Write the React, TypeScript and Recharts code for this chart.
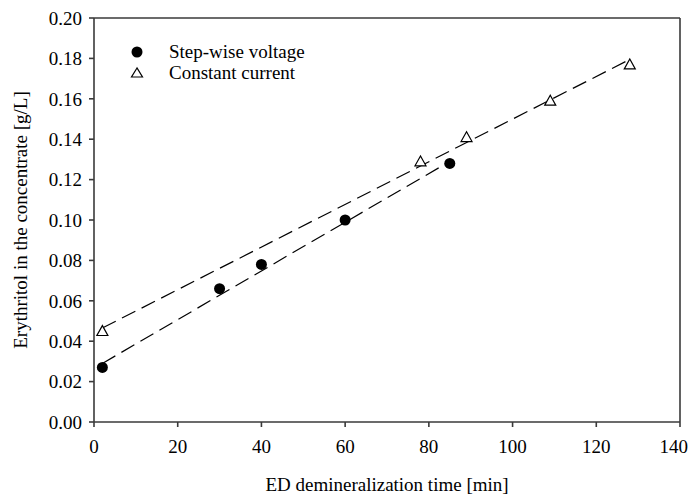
import React from "react";
import { ComposedChart, Scatter, Line, XAxis, YAxis } from "recharts";

// measured points
const stepTime = [2, 30, 40, 60, 85];
const stepConc = [0.027, 0.066, 0.078, 0.1, 0.128];
const constTime = [2, 78, 89, 109, 128];
const constConc = [0.045, 0.129, 0.141, 0.159, 0.177];

// regression line ends
const stepFitTime = [2, 85];
const stepFitConc = [0.029, 0.129];
const constFitTime = [2, 128];
const constFitConc = [0.0465, 0.1795];

const xTicks = [0, 20, 40, 60, 80, 100, 120, 140];
const yTicks = [0, 0.02, 0.04, 0.06, 0.08, 0.1, 0.12, 0.14, 0.16, 0.18, 0.2];

const zip = (xs: number[], ys: number[]) => xs.map((x, i) => ({ x, y: ys[i] }));

const stepData = zip(stepTime, stepConc);
const constData = zip(constTime, constConc);
const stepFit = zip(stepFitTime, stepFitConc);
const constFit = zip(constFitTime, constFitConc);

const FONT = "'Liberation Serif', 'Times New Roman', serif";
const AXIS = "#3a3a3a";
const FS = 19;

const Dot = (props: any) => <circle cx={props.cx} cy={props.cy} r={5.5} fill="#000" />;

const Tri = (props: any) => {
  const { cx, cy } = props;
  const s = 5.5;
  return (
    <polygon
      points={`${cx},${cy - s} ${cx - s},${cy + s * 0.8} ${cx + s},${cy + s * 0.8}`}
      fill="#fff"
      stroke="#000"
      strokeWidth={1.2}
    />
  );
};

const LegendBox = () => (
  <div
    style={{
      position: "absolute",
      left: 127,
      top: 41,
      fontFamily: FONT,
      fontSize: FS,
      color: "#000",
      lineHeight: "21px",
    }}
  >
    <div style={{ display: "flex", alignItems: "center" }}>
      <svg width={20} height={14}>
        <circle cx={10} cy={7} r={5.5} fill="#000" />
      </svg>
      <span style={{ marginLeft: 22 }}>Step-wise voltage</span>
    </div>
    <div style={{ display: "flex", alignItems: "center" }}>
      <svg width={20} height={14}>
        <polygon points="10,2 4.5,11 15.5,11" fill="#fff" stroke="#000" strokeWidth={1.2} />
      </svg>
      <span style={{ marginLeft: 22 }}>Constant current</span>
    </div>
  </div>
);

export default function App() {
  return (
    <div style={{ position: "relative", width: 688, height: 495, background: "#fff" }}>
      <style>{"body{margin:0}"}</style>
      <ComposedChart
        width={688}
        height={495}
        margin={{ top: 0, right: 0, left: 0, bottom: 0 }}
        style={{ fontFamily: FONT }}
      >
        <XAxis
          xAxisId="b"
          type="number"
          dataKey="x"
          domain={[0, 140]}
          ticks={xTicks}
          height={73}
          stroke={AXIS}
          strokeWidth={1.6}
          tickSize={5}
          tickMargin={13}
          tick={{ fill: "#000", fontSize: FS, fontFamily: FONT }}
          label={{
            value: "ED demineralization time [min]",
            position: "insideBottom",
            offset: 4,
            fill: "#000",
            fontSize: FS,
            fontFamily: FONT,
          }}
        />
        <XAxis
          xAxisId="t"
          orientation="top"
          type="number"
          dataKey="x"
          domain={[0, 140]}
          height={18}
          tick={false}
          tickLine={false}
          stroke={AXIS}
          strokeWidth={1.6}
        />
        <YAxis
          yAxisId="l"
          type="number"
          domain={[0, 0.2]}
          ticks={yTicks}
          width={94}
          stroke={AXIS}
          strokeWidth={1.6}
          tickSize={5}
          tickMargin={7}
          tickFormatter={(v: number) => v.toFixed(2)}
          tick={{ fill: "#000", fontSize: FS, fontFamily: FONT }}
          label={{
            value: "Erythritol in the concentrate [g/L]",
            angle: -90,
            position: "insideLeft",
            offset: 20,
            style: { textAnchor: "middle" },
            fill: "#000",
            fontSize: FS,
            fontFamily: FONT,
          }}
        />
        <YAxis
          yAxisId="r"
          orientation="right"
          type="number"
          domain={[0, 0.2]}
          width={8}
          tick={false}
          tickLine={false}
          stroke={AXIS}
          strokeWidth={1.6}
        />
        <Line
          xAxisId="b"
          yAxisId="l"
          data={stepFit}
          dataKey="y"
          stroke="#000"
          strokeWidth={1.2}
          strokeDasharray="15 7"
          dot={false}
          isAnimationActive={false}
        />
        <Line
          xAxisId="b"
          yAxisId="l"
          data={constFit}
          dataKey="y"
          stroke="#000"
          strokeWidth={1.2}
          strokeDasharray="15 7"
          dot={false}
          isAnimationActive={false}
        />
        <Scatter
          xAxisId="b"
          yAxisId="l"
          name="Step-wise voltage"
          data={stepData}
          dataKey="y"
          shape={Dot}
          isAnimationActive={false}
        />
        <Scatter
          xAxisId="b"
          yAxisId="l"
          name="Constant current"
          data={constData}
          dataKey="y"
          shape={Tri}
          isAnimationActive={false}
        />
      </ComposedChart>
      <LegendBox />
    </div>
  );
}
